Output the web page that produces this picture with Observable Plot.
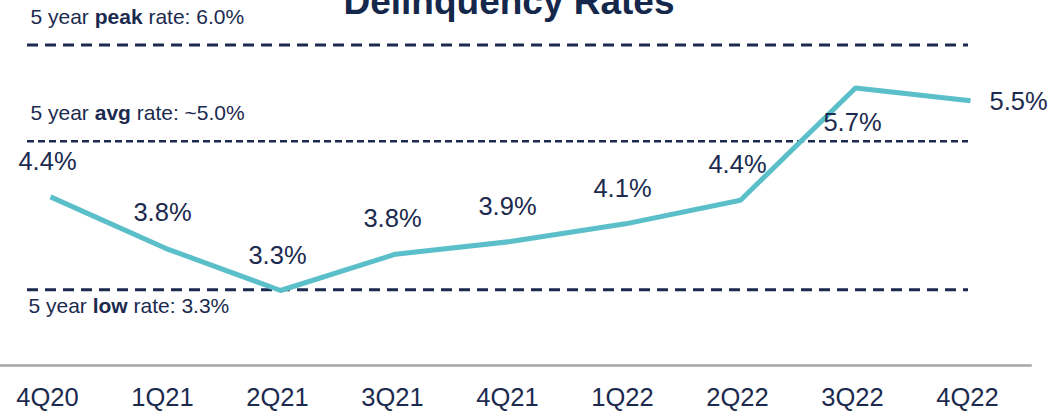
<!DOCTYPE html>
<html>
<head>
<meta charset="utf-8">
<script src="https://cdn.jsdelivr.net/npm/d3@7"></script>
<script src="https://cdn.jsdelivr.net/npm/@observablehq/plot@0.6"></script>
<style>
  html, body { margin: 0; padding: 0; background: #ffffff; }
  #wrap { position: relative; width: 1056px; height: 412px; overflow: hidden; }
  #title {
    position: absolute; left: 0; width: 1018px; top: -17px;
    text-align: center; font-family: "Liberation Sans", Arial, sans-serif;
    font-weight: bold; font-size: 37px; line-height: 37px; color: #15284b;
    z-index: 2; white-space: nowrap;
  }
  #chart svg { display: block; }
</style>
</head>
<body>
<div id="wrap">
  <div id="title">Delinquency Rates</div>
  <div id="chart"></div>
</div>
<script>
// Data
const quarters = ["4Q20", "1Q21", "2Q21", "3Q21", "4Q21", "1Q22", "2Q22", "3Q22", "4Q22"];
const rates = [4.41, 3.80, 3.30, 3.73, 3.88, 4.09, 4.37, 5.70, 5.55];
const rateLabels = ["4.4%", "3.8%", "3.3%", "3.8%", "3.9%", "4.1%", "4.4%", "5.7%", "5.5%"];

const refKinds = ["peak", "avg", "low"];
const refLevels = [6.21, 5.07, 3.31];
const refValues = ["6.0%", "~5.0%", "3.3%"];

const series = quarters.map((q, i) => ({ q, rate: rates[i], label: rateLabels[i] }));
const refs = refKinds.map((kind, i) => ({ kind, level: refLevels[i], value: refValues[i] }));

const navy = "#1b2a4e";
const teal = "#5bbfca";

const chart = Plot.plot({
  width: 1056,
  height: 412,
  marginLeft: 27,
  marginRight: 88,
  marginTop: 0,
  marginBottom: 47,
  style: { fontFamily: "Liberation Sans, Arial, sans-serif", color: navy, background: "#ffffff" },
  x: { type: "point", domain: quarters, range: [48, 972], padding: 0, label: null },
  y: { domain: [3.3, 5.7], range: [290, 87.5], axis: null },
  marks: [
    Plot.frame({ anchor: "bottom", stroke: "#a6a6a6", strokeWidth: 2.5, insetLeft: -27, insetRight: -62 }),
    Plot.ruleY(refs, { y: "level", stroke: navy, strokeWidth: 3, strokeDasharray: "11,7", filter: d => d.kind !== "avg" }),
    Plot.ruleY(refs, { y: "level", stroke: navy, strokeWidth: 2.5, strokeDasharray: "7,4", filter: d => d.kind === "avg" }),
    Plot.text(refs, {
      y: "level", text: d => `5 year ${d.kind} rate: ${d.value}`,
      frameAnchor: "left", textAnchor: "start", lineAnchor: "bottom",
      dx: 3, dy: -21, fontSize: 21, fill: navy,
      filter: d => d.kind !== "low"
    }),
    Plot.text(refs, {
      y: "level", text: d => `5 year ${d.kind} rate: ${d.value}`,
      frameAnchor: "left", textAnchor: "start", lineAnchor: "bottom",
      dx: 1, dy: 23, fontSize: 21, fill: navy,
      filter: d => d.kind === "low"
    }),
    Plot.line(series, { x: "q", y: "rate", stroke: teal, strokeWidth: 5, strokeLinejoin: "miter", strokeLinecap: "butt" }),
    Plot.text(series, {
      x: "q", y: "rate", text: "label", textAnchor: "middle", lineAnchor: "bottom",
      dx: -3, dy: -27, fontSize: 25.5, fill: navy,
      filter: d => d.q !== "3Q22" && d.q !== "4Q22"
    }),
    Plot.text(series, {
      x: "q", y: "rate", text: "label", textAnchor: "middle", lineAnchor: "bottom",
      dx: -3, dy: 43, fontSize: 25.5, fill: navy,
      filter: d => d.q === "3Q22"
    }),
    Plot.text(series, {
      x: "q", y: "rate", text: "label", textAnchor: "start", lineAnchor: "bottom",
      dx: 19, dy: 9, fontSize: 25.5, fill: navy,
      filter: d => d.q === "4Q22"
    }),
    Plot.axisX({ tickSize: 0, tickPadding: 22, fontSize: 25.5, dx: -3, fill: navy, label: null })
  ]
});

document.getElementById("chart").appendChild(chart);

// Rich text for reference labels: bold the kind word
d3.select(chart).selectAll("text").each(function () {
  const m = /^5 year (\w+) rate: (.*)$/.exec(this.textContent);
  if (!m) return;
  const t = d3.select(this);
  t.text(null);
  t.append("tspan").text("5 year ");
  t.append("tspan").attr("font-weight", "bold").text(m[1]);
  t.append("tspan").text(` rate: ${m[2]}`);
});
</script>
</body>
</html>
